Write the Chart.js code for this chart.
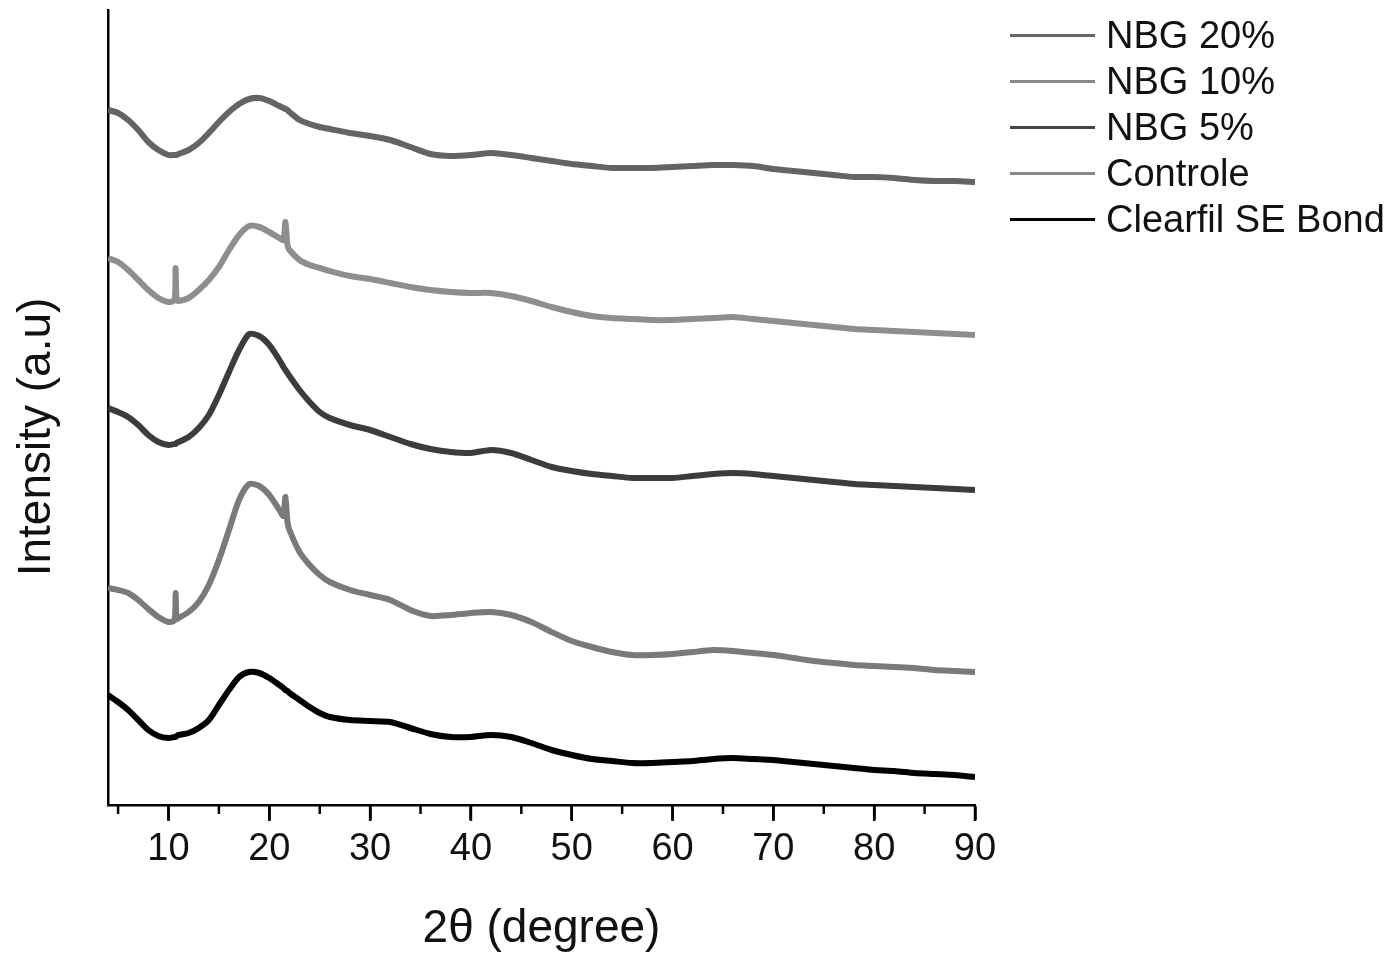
<!DOCTYPE html>
<html>
<head>
<meta charset="utf-8">
<script src="https://cdn.jsdelivr.net/npm/chart.js@4.4.1/dist/chart.umd.min.js"></script>
<style>
  html, body { margin: 0; padding: 0; background: #fff; }
  #wrap { position: relative; width: 1389px; height: 953px; }
  #legend { position: absolute; left: 1010px; top: 12px; font-family: "Liberation Sans", Arial, sans-serif; font-size: 38px; color: #111; }
  .item { display: flex; align-items: center; height: 46px; }
  .swatch { width: 85px; height: 0; border-top: 3px solid #000; margin-right: 11px; }
</style>
</head>
<body>
<div id="wrap">
  <canvas id="xrd" width="1389" height="953"></canvas>
  <div id="legend"></div>
</div>
<script>
// 2theta grid (degrees)
const twoTheta = [4, 5, 6, 7, 8, 9, 10, 10.6, 10.7, 10.8, 11, 12, 13, 14, 15, 16, 17, 18, 19, 20, 21, 21.4, 21.6, 21.8, 22, 23, 24, 25, 26, 28, 30, 32, 34, 36, 38, 40, 42, 44, 46, 48, 50, 52, 54, 56, 58, 60, 62, 64, 66, 68, 70, 72, 74, 76, 78, 80, 82, 84, 86, 88, 90];

// stacked intensities (a.u., offset as plotted)
const nbg20 = [695, 692, 685, 675, 663, 655, 650, 650, 650, 650, 651, 655, 662, 672, 683, 693, 701, 706, 707, 704, 699, 697, 696, 695, 693, 685, 681, 678, 676, 672, 669, 665, 658, 651, 649, 650, 652, 650, 647, 644, 641, 639, 637, 637, 637, 638, 639, 640, 640, 639, 636, 634, 632, 630, 628, 628, 627, 625, 624, 624, 623];
const nbg10 = [547, 543, 535, 525, 515, 507, 503, 505, 537, 505, 504, 507, 515, 525, 538, 555, 570, 579, 578, 573, 567, 565, 583, 560, 555, 545, 540, 537, 534, 529, 526, 522, 518, 515, 513, 512, 512, 509, 504, 498, 493, 489, 487, 486, 485, 485, 486, 487, 488, 486, 484, 482, 480, 478, 476, 475, 474, 473, 472, 471, 470];
const nbg5 = [397, 393, 388, 380, 370, 363, 360, 361, 361, 362, 363, 368, 377, 390, 410, 433, 455, 471, 469, 460, 445, 438, 435, 432, 429, 415, 403, 393, 387, 380, 375, 368, 361, 356, 353, 352, 355, 352, 345, 338, 334, 331, 329, 327, 327, 327, 329, 331, 332, 331, 329, 327, 325, 323, 321, 320, 319, 318, 317, 316, 315];
const controle = [217, 215, 212, 205, 196, 188, 183, 185, 212, 186, 187, 193, 203, 220, 245, 275, 305, 321, 319, 310, 295, 289, 308, 283, 275, 253, 240, 230, 223, 215, 210, 205, 195, 189, 190, 192, 193, 190, 183, 173, 164, 158, 153, 150, 150, 151, 153, 155, 154, 152, 150, 147, 144, 142, 140, 139, 138, 137, 135, 134, 133];
const clearfil = [110, 103, 95, 85, 75, 69, 67, 68, 68, 69, 70, 72, 77, 85, 100, 115, 128, 133, 132, 127, 120, 117, 115, 114, 112, 105, 98, 92, 88, 85, 84, 83, 77, 71, 68, 68, 70, 68, 62, 55, 50, 46, 44, 42, 42, 43, 44, 46, 47, 46, 45, 43, 41, 39, 37, 35, 34, 32, 31, 30, 28];

const seriesNames = ['NBG 20%', 'NBG 10%', 'NBG 5%', 'Controle', 'Clearfil SE Bond'];
const seriesColors = ['#646464', '#8e8e8e', '#3c3c3c', '#7a7a7a', '#000000'];
const legendColors = ['#666666', '#8a8a8a', '#444444', '#888888', '#000000'];
const majorTicks = [10, 20, 30, 40, 50, 60, 70, 80, 90];
const minorTicks = [5, 15, 25, 35, 45, 55, 65, 75, 85];

const FONT = "'Liberation Sans', Arial, sans-serif";
const allSeries = [nbg20, nbg10, nbg5, controle, clearfil];

const datasets = allSeries.map((vals, i) => ({
  label: seriesNames[i],
  data: twoTheta.map((t, j) => ({ x: t, y: vals[j] })),
  borderColor: seriesColors[i],
  borderWidth: 6,
  pointRadius: 0,
  tension: 0.25,
  fill: false
}));

// outward ticks (long + short) and the y title, which sits a bit below centre in the original
const extrasPlugin = {
  id: 'extras',
  afterDraw(chart) {
    const ctx = chart.ctx;
    const xs = chart.scales.x;
    const y0 = chart.chartArea.bottom;
    ctx.save();
    ctx.strokeStyle = '#000';
    ctx.lineWidth = 2.5;
    const tick = (v, len) => {
      const px = xs.getPixelForValue(v);
      ctx.beginPath();
      ctx.moveTo(px, y0);
      ctx.lineTo(px, y0 + len);
      ctx.stroke();
    };
    minorTicks.forEach(v => tick(v, 9));
    majorTicks.forEach(v => tick(v, 16));
    ctx.translate(37, 437);
    ctx.rotate(-Math.PI / 2);
    ctx.fillStyle = '#111';
    ctx.font = "46px " + FONT;
    ctx.textAlign = 'center';
    ctx.textBaseline = 'middle';
    ctx.fillText('Intensity (a.u)', 0, 0);
    ctx.restore();
  }
};

new Chart(document.getElementById('xrd'), {
  type: 'line',
  data: { datasets },
  plugins: [extrasPlugin],
  options: {
    responsive: false,
    animation: false,
    layout: { padding: { top: 10, right: 414, left: 0, bottom: 0 } },
    plugins: { legend: { display: false }, tooltip: { enabled: false } },
    scales: {
      x: {
        type: 'linear',
        min: 4,
        max: 90,
        afterBuildTicks: (scale) => { scale.ticks = majorTicks.map(v => ({ value: v })); },
        afterFit: (scale) => { scale.height = 148; },
        ticks: { font: { family: FONT, size: 38 }, color: '#111', padding: 7, maxRotation: 0, autoSkip: false },
        grid: { drawOnChartArea: false, tickLength: 15, tickWidth: 2.5, tickColor: '#000' },
        border: { display: true, color: '#000', width: 2.5 },
        title: { display: true, text: '2θ (degree)', font: { family: FONT, size: 46 }, color: '#111', padding: { top: 0, bottom: -4 } }
      },
      y: {
        min: 0,
        max: 795,
        afterFit: (scale) => { scale.width = 108; },
        ticks: { display: false },
        grid: { drawOnChartArea: false, drawTicks: false },
        border: { display: true, color: '#000', width: 2.5 }
      }
    }
  }
});

const legendEl = document.getElementById('legend');
seriesNames.forEach((name, i) => {
  const row = document.createElement('div');
  row.className = 'item';
  row.innerHTML = '<span class="swatch" style="border-top-color:' + legendColors[i] + '"></span><span>' + name + '</span>';
  legendEl.appendChild(row);
});
</script>
</body>
</html>
